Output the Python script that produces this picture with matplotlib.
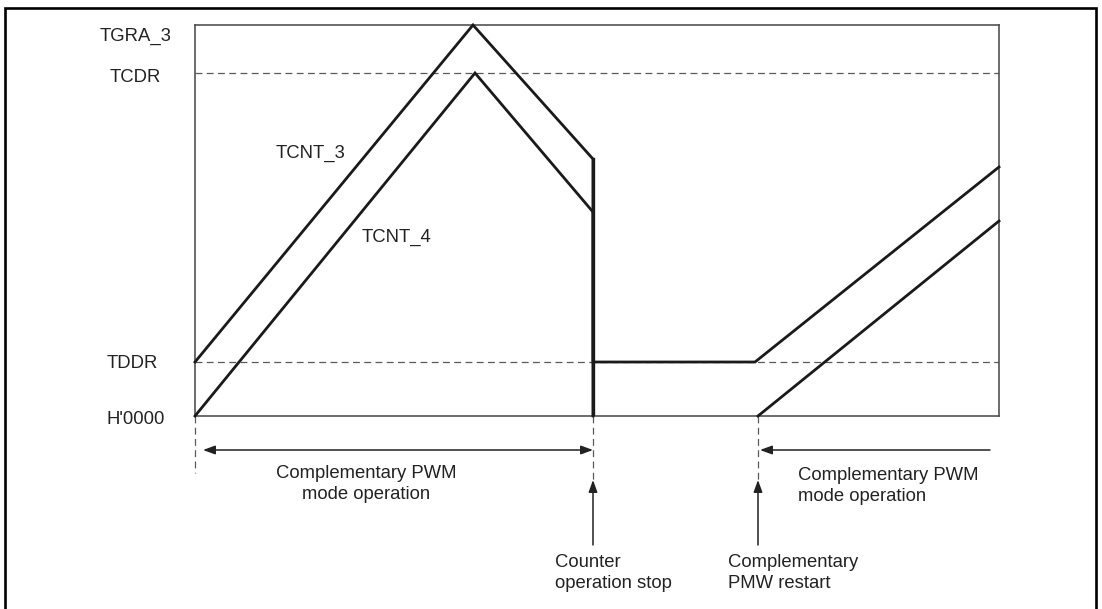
import matplotlib
matplotlib.use("Agg")
import matplotlib.pyplot as plt
import numpy as np
from matplotlib.patches import Rectangle

plt.rcParams['font.family'] = ['Liberation Sans', 'DejaVu Sans']
plt.rcParams['font.size'] = 13.3

# counter levels (arbitrary counter units)
levels = {"H'0000": 0, "TDDR": 54, "TCDR": 343, "TGRA_3": 391}
level_names = ["TGRA_3", "TCDR", "TDDR", "H'0000"]

# event times
t_stop = 398
t_restart3 = 560
t_restart4 = 563
t_end = 804

# counter traces
t3 = [0, 278, t_stop, t_stop, t_restart3, t_end]
v3 = [54, 391, 257, 54, 54, 249]
t4 = [0, 280, t_stop, t_stop, np.nan, t_restart4, t_end]
v4 = [0, 343, 204, 0, np.nan, 0, 195]

W, H, dpi = 1102, 609, 100
fig = plt.figure(figsize=(W / dpi, H / dpi), dpi=dpi)
ax = fig.add_axes([195 / W, (H - 416) / H, 804 / W, 391 / H])
ax.set_xlim(0, t_end)
ax.set_ylim(0, levels["TGRA_3"])
ax.set_xticks([])
ax.set_yticks([])
for s in ax.spines.values():
    s.set_color('#444444')
    s.set_linewidth(1.1)

dash = dict(color='#5a5a5a', lw=0.9, linestyle=(0, (5.5, 3.5)))
ax.axhline(levels["TCDR"], **dash)
ax.axhline(levels["TDDR"], **dash)

ax.plot(t3, v3, color='#1a1a1a', lw=2.0, solid_joinstyle='miter', clip_on=False, zorder=3)
ax.plot(t4, v4, color='#1a1a1a', lw=2.0, solid_joinstyle='miter', clip_on=False, zorder=3)
ax.plot([t_stop, t_stop], [levels["H'0000"], v3[2]], color='#1a1a1a', lw=2.4, zorder=3)

# level labels
label_x = {"TGRA_3": -95, "TCDR": -85, "TDDR": -88, "H'0000": -88}
label_dy = {"TGRA_3": -11, "TCDR": -5, "TDDR": -2, "H'0000": -4}
for name in level_names:
    ax.text(label_x[name], levels[name] + label_dy[name], name, ha='left', va='center',
            color='#222222', clip_on=False)

ax.text(81, 263, "TCNT_3", ha='left', va='center', color='#222222')
ax.text(167, 179, "TCNT_4", ha='left', va='center', color='#222222')

# guides below the axis
for tx, y1 in [(0, -57), (t_stop, -64), (t_restart4, -64)]:
    ax.plot([tx, tx], [0, y1], clip_on=False, **dash)

arr = dict(color='#222222', lw=1.1, shrinkA=0, shrinkB=0, mutation_scale=12)
ax.annotate('', xy=(8, -34), xytext=(t_stop, -34), annotation_clip=False,
            arrowprops=dict(arrowstyle='<|-|>,head_length=0.6,head_width=0.22', **arr))
ax.annotate('', xy=(t_restart4 + 2, -34), xytext=(795, -34), annotation_clip=False,
            arrowprops=dict(arrowstyle='-|>,head_length=0.6,head_width=0.22', **arr))
for tx in [t_stop, t_restart4]:
    ax.annotate('', xy=(tx, -64), xytext=(tx, -129), annotation_clip=False,
                arrowprops=dict(arrowstyle='-|>,head_length=0.6,head_width=0.22', **arr))

ls = 1.33
ax.text(171, -49, "Complementary PWM\nmode operation", ha='center', va='top',
        linespacing=ls, color='#222222', clip_on=False)
ax.text(603, -51, "Complementary PWM\nmode operation", ha='left', va='top',
        linespacing=ls, color='#222222', clip_on=False)
ax.text(360, -138, "Counter\noperation stop", ha='left', va='top',
        linespacing=ls, color='#222222', clip_on=False)
ax.text(533, -138, "Complementary\nPMW restart", ha='left', va='top',
        linespacing=ls, color='#222222', clip_on=False)

# outer frame (open at the bottom edge of the picture)
fig.patches.append(Rectangle((5 / W, -0.05), 1091 / W, 1.05 - 8 / H, transform=fig.transFigure,
                             fill=False, edgecolor='black', lw=1.9))

fig.savefig('out.png', dpi=dpi)
